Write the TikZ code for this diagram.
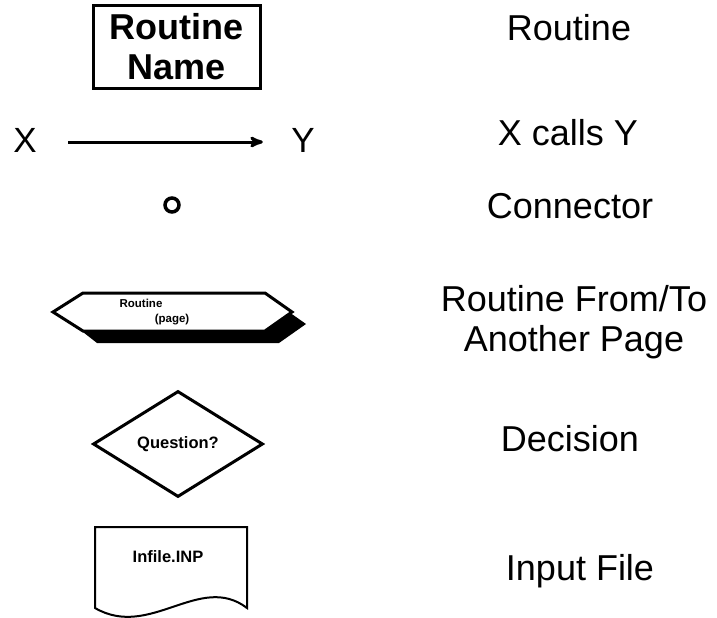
\documentclass[tikz,border=0pt]{standalone}
\usepackage{fontspec}
\setmainfont{Liberation Sans}
\usetikzlibrary{arrows,shapes.geometric,positioning}

\begin{document}
\begin{tikzpicture}[x=1pt,y=-1pt,>=stealth',line width=3pt,
		lbl/.style={font=\fontsize{36}{40}\selectfont,align=center,inner sep=0pt},
		sym/.style={draw,line width=3pt,align=center,inner sep=0pt}]
			\useasboundingbox (0,0) rectangle (717,618);
			% symbols
			\node[sym,minimum width=167pt,minimum height=82pt,font=\bfseries\fontsize{36}{40}\selectfont] (s_routine) at (176.5,47) {Routine\\Name};
			\node[lbl,font=\fontsize{35}{40}\selectfont] (s_x) at (25,140) {X};
			\node[lbl,font=\fontsize{35}{40}\selectfont] (s_y) at (303,140) {Y};
			\node[sym,circle,line width=3.5pt,minimum size=14pt] (s_conn) at (172,205) {};
			\path[fill=black] (74,325) -- (279,305) -- (306,324) -- (279,343) -- (97,343) -- cycle;
			\path[draw,fill=white] (53,312) -- (83,293) -- (265,293) -- (292,312) -- (265,331) -- (83,331) -- cycle;
			\node[font=\bfseries\fontsize{11.5}{13}\selectfont,inner sep=0pt] (s_page_a) at (141,303) {Routine};
			\node[font=\bfseries\fontsize{11.5}{13}\selectfont,inner sep=0pt] (s_page_b) at (172,320) {(page)};
			\node[sym,diamond,aspect=1.6,minimum width=170pt,minimum height=106pt,font=\bfseries\fontsize{16.5}{18}\selectfont] (s_decision) at (178,444) {Question?};
			\draw[line width=2pt] (95,608) -- (95,527) -- (247,527) -- (247,608) .. controls (200,572) and (150,640) .. (95,608) -- cycle;
			\node[font=\bfseries\fontsize{16.5}{18}\selectfont,inner sep=0pt] (s_infile) at (168,557) {Infile.INP};
			\draw[->,shorten <=30pt,shorten >=27pt] ([yshift=-2pt]s_x.east) -- ([yshift=-2pt]s_y.west);
			% labels
			\node[lbl,anchor=base] (l_routine) at (569,41) {Routine};
			\node[lbl,anchor=base] (l_calls) at (568,145) {X calls Y};
			\node[lbl,anchor=base] (l_conn) at (570,218) {Connector};
			\node[lbl] (l_page) at (574,322) {Routine From/To\\Another Page};
			\node[lbl,anchor=base] (l_decision) at (570,451) {Decision};
			\node[lbl,anchor=base] (l_infile) at (580,580) {Input File};
		\end{tikzpicture}
\end{document}
